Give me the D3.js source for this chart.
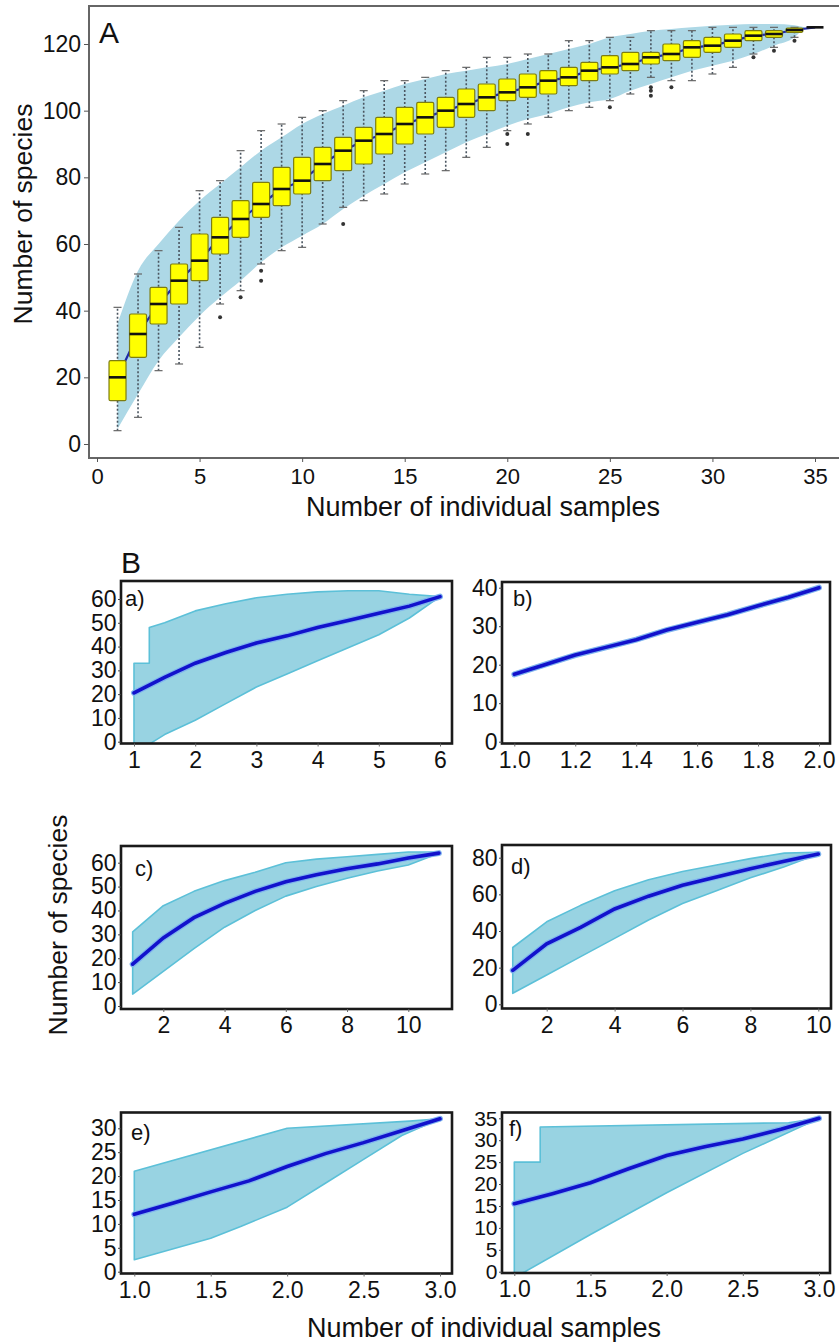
<!DOCTYPE html>
<html>
<head>
<meta charset="utf-8">
<script src="https://cdn.jsdelivr.net/npm/d3@7"></script>
<style>
  body { margin: 0; background: #fff; }
  svg { display: block; font-family: "Liberation Sans", Arial, sans-serif; }
  .axis path.domain { display: none; }
</style>
</head>
<body>
<svg id="chart" width="839" height="1342"></svg>
<script>
// ---------- Panel A: boxplots of species accumulation ----------
const samplesA = [1,2,3,4,5,6,7,8,9,10,11,12,13,14,15,16,17,18,19,20,21,22,23,24,25,26,27,28,29,30,31,32,33,34,35];
const whiskLo  = [4,8,22,24,29,42,46,54,58,59,66,71,73,75,78,81,82,86,89,94,96,98,100,101,103,105,110,109,109,111,113,117,119,122,125];
const q1A      = [13,26,36,42,49,57,62,68,71.5,75,79,82,84,87,90,93,95,98,100,103,104,105,107.5,109,111,112,114,115,116,117.5,119,121,122,123.5,125];
const medA     = [20,33,42,49,55,62,67.5,72,76.5,79,84,88,91,93,96,98,100,102,104,105.5,107,109,110,112,113,114,116,117,119,119.5,121,122.5,123,124.2,125];
const q3A      = [25,39,47,54,63,68,73,78.5,83,86,89,92,95,98,101,102.5,104,106.5,108,109.5,111,112,113,114.5,116.5,117.5,117.5,120,121,122,123,124,124,124.8,125];
const whiskHi  = [41,51,58,65,76,79,88,94,96,98,100,103,106,109,109,110,112,113,116,116,117,117,121,121,122,122,124,124,124,125,125,125,125,125,125];
const outlierX = [6,7,8,8,12,20,20,21,25,27,27,27,28,32,33,34];
const outlierY = [38,44,52,49,66,93,90,93,101,107,106,104.5,107,116,118,121];

// 95% envelope around the curve
const bandXA  = [1,2,3,4,5,6,7,8,9,10,11,12,13,14,15,16,17,18,19,20,21,22,23,24,25,26,27,28,29,30,31,32,33,34,34.5];
const bandHiA = [36,52,60,67,73,78,83,88,92,96,99,101.5,104,106,108,109.5,111,112,113,114,115.5,117,118.5,120,122,123,124,124.5,125,125.5,125.8,126,126,125.6,125];
const bandLoA = [4.5,15,25,32,38.5,44,49,54.5,59,62.5,66,70.5,74.5,78,81.5,84.5,87.5,90.5,93,95.5,97.5,99,101,102.5,103.5,106,108,110,112,113.5,115,117,119.5,122,125];

const xTicksA = [0,5,10,15,20,25,30,35];
const yTicksA = [0,20,40,60,80,100,120];

// ---------- Panel B: six sub-panels ----------
const aLineX = [1,1.5,2,2.5,3,3.5,4,4.5,5,5.5,6];
const aLine  = [20.5,27,33,37.5,41.5,44.5,48,51,54,57,61];
const aUpX   = [1,1.25,1.25,1.5,2,2.5,3,3.5,4,4.5,5,5.5,6];
const aUp    = [33,33,48,50,55,58,60.5,62,63,63.5,63.5,62,61];
const aLoX   = [1,1.25,1.5,2,2.5,3,3.5,4,4.5,5,5.5,6];
const aLo    = [-1,-1,3,9,16,23,28.5,34,39.5,45,52,61];

const bLineX = [1,1.1,1.2,1.3,1.4,1.5,1.6,1.7,1.8,1.9,2];
const bLine  = [17.5,20,22.5,24.5,26.5,29,31,33,35.3,37.5,40];

const cLineX = [1,2,3,4,5,6,7,8,9,10,11];
const cLine  = [17.5,28.5,37,43,48,52,55,57.5,59.5,62,64];
const cUp    = [31,42,48,52.5,56,60,61.5,62.5,63.5,64.5,64.5];
const cLo    = [5,14.5,24,33,40,46,50,53.5,56.5,59,64];

const dLineX = [1,2,3,4,5,6,7,8,9,10];
const dLine  = [18.5,33,42,52,59,65,69.5,74,78,82];
const dUp    = [31,45,54,62,68,72.5,76,79.5,82.5,83];
const dLo    = [6,16,26,36,46,55,62,69,75,82];

const eLineX = [1,1.25,1.5,1.75,2,2.25,2.5,2.75,3];
const eLine  = [12,14.3,16.7,19,22,24.7,27,29.5,32];
const eUpX   = [1,2,2.8,3];
const eUp    = [21,30,31.5,32];
const eLoX   = [1,1.5,1.7,2,2.25,2.5,2.75,3];
const eLo    = [2.5,7,9.5,13.5,18.5,23.5,28.5,32];

const fLineX = [1,1.25,1.5,1.75,2,2.25,2.5,2.75,3];
const fLine  = [15.5,17.8,20.3,23.5,26.5,28.5,30.3,32.5,35];
const fUpX   = [1,1.17,1.17,2.8,3];
const fUp    = [25,25,33,34,35];
const fLoX   = [1,1.07,1.5,2,2.5,3];
const fLo    = [-1,0,8.5,18,27,35];

const xTicksAB = [1,2,3,4,5,6];
const xTicksB  = [1.0,1.2,1.4,1.6,1.8,2.0];
const xTicksCD = [2,4,6,8,10];
const xTicksEF = [1.0,1.5,2.0,2.5,3.0];
const yTicks60 = [0,10,20,30,40,50,60];
const yTicks40 = [0,10,20,30,40];
const yTicks80 = [0,20,40,60,80];
const yTicks30 = [0,5,10,15,20,25,30];
const yTicks35 = [0,5,10,15,20,25,30,35];

const svg = d3.select('#chart');

// ===== Panel A =====
const xA = d3.scaleLinear().domain([0, 35]).range([97, 815]);
const yA = d3.scaleLinear().domain([0, 120]).range([444, 44]);
const gA = svg.append('g');

const bandA = bandXA.map((x, i) => ({ x: x, lo: bandLoA[i], hi: bandHiA[i] }));
gA.append('path')
    .datum(bandA)
    .attr('fill', '#add8e6')
    .attr('d', d3.area()
        .x(d => xA(d.x))
        .y0(d => yA(d.lo))
        .y1(d => yA(d.hi))
        .curve(d3.curveMonotoneX));

const boxes = samplesA.map((x, i) => ({
  x: x, lo: whiskLo[i], q1: q1A[i], med: medA[i], q3: q3A[i], hi: whiskHi[i]
}));

// dotted whiskers
gA.selectAll('.whisk')
  .data(boxes)
  .join('line')
    .attr('x1', d => xA(d.x)).attr('x2', d => xA(d.x))
    .attr('y1', d => yA(d.lo)).attr('y2', d => yA(d.hi))
    .attr('stroke', '#4a5560')
    .attr('stroke-width', 1.6)
    .attr('stroke-dasharray', '2,2');

// whisker caps
['lo', 'hi'].forEach(k => {
  gA.selectAll('.cap-' + k)
    .data(boxes)
    .join('line')
      .attr('x1', d => xA(d.x) - 4).attr('x2', d => xA(d.x) + 4)
      .attr('y1', d => yA(d[k])).attr('y2', d => yA(d[k]))
      .attr('stroke', '#666')
      .attr('stroke-width', 1.2);
});

// line through the medians
gA.append('path')
    .datum(boxes)
    .attr('fill', 'none')
    .attr('stroke', '#1f2aa8')
    .attr('stroke-width', 2.2)
    .attr('d', d3.line().x(d => xA(d.x)).y(d => yA(d.med)));

const boxW = 17;
gA.selectAll('.box')
  .data(boxes)
  .join('rect')
    .attr('x', d => xA(d.x) - boxW / 2)
    .attr('y', d => yA(d.q3))
    .attr('width', boxW)
    .attr('height', d => yA(d.q1) - yA(d.q3))
    .attr('rx', 1.5)
    .attr('fill', '#ffff00')
    .attr('stroke', '#7d7d10')
    .attr('stroke-width', 1.2);

gA.selectAll('.med')
  .data(boxes)
  .join('line')
    .attr('x1', d => xA(d.x) - boxW / 2).attr('x2', d => xA(d.x) + boxW / 2)
    .attr('y1', d => yA(d.med)).attr('y2', d => yA(d.med))
    .attr('stroke', '#111')
    .attr('stroke-width', 2.6);

gA.selectAll('.outlier')
  .data(outlierX.map((x, i) => ({ x: x, y: outlierY[i] })))
  .join('circle')
    .attr('cx', d => xA(d.x))
    .attr('cy', d => yA(d.y))
    .attr('r', 2)
    .attr('fill', '#333');

// frame (open on the right, like the cropped original)
gA.append('path')
    .attr('d', 'M845,6 H89 V458 H845')
    .attr('fill', 'none')
    .attr('stroke', '#666')
    .attr('stroke-width', 2);

gA.append('g')
    .attr('class', 'axis')
    .attr('transform', 'translate(89,0)')
    .call(d3.axisLeft(yA).tickValues(yTicksA).tickSize(5).tickPadding(3))
    .call(g => g.selectAll('text').attr('font-size', 23).attr('fill', '#111'))
    .call(g => g.selectAll('line').attr('stroke', '#555'));

gA.append('g')
    .attr('class', 'axis')
    .attr('transform', 'translate(0,458)')
    .call(d3.axisBottom(xA).tickValues(xTicksA).tickSize(4).tickPadding(6))
    .call(g => g.selectAll('text').attr('font-size', 22).attr('fill', '#111'))
    .call(g => g.selectAll('line').attr('stroke', '#555'));

gA.append('text').attr('x', 99).attr('y', 43)
    .attr('font-size', 30).attr('fill', '#111').text('A');

gA.append('text')
    .attr('transform', 'translate(32,214) rotate(-90)')
    .attr('text-anchor', 'middle')
    .attr('font-size', 26.5).attr('fill', '#111')
    .text('Number of species');

gA.append('text')
    .attr('x', 483).attr('y', 516)
    .attr('text-anchor', 'middle')
    .attr('font-size', 27).attr('fill', '#111')
    .text('Number of individual samples');

// ===== Panel B =====
const pts = (xs, ys) => xs.map((x, i) => ({ x: x, y: ys[i] }));

const panels = [
  { key: 'a)', frame: [121, 581, 452, 743.5], xd: [1, 6], xr: [134, 440], yd: [0, 60], yr: [741.7, 599],
    xt: xTicksAB, yt: yTicks60, fmt: d3.format('d'), lab: [125, 606], yfs: 23,
    line: pts(aLineX, aLine), up: pts(aUpX, aUp), lo: pts(aLoX, aLo) },
  { key: 'b)', frame: [502, 582, 830, 743.5], xd: [1, 2], xr: [514.3, 819], yd: [0, 40], yr: [741.7, 587.7],
    xt: xTicksB, yt: yTicks40, fmt: d3.format('.1f'), lab: [513, 606], yfs: 23,
    line: pts(bLineX, bLine), up: null, lo: null },
  { key: 'c)', frame: [121, 846, 452, 1009], xd: [2, 10], xr: [163.3, 408.3], yd: [0, 60], yr: [1006, 862.7],
    xt: xTicksCD, yt: yTicks60, fmt: d3.format('d'), lab: [135, 876], yfs: 23,
    line: pts(cLineX, cLine), up: pts(cLineX, cUp), lo: pts(cLineX, cLo) },
  { key: 'd)', frame: [502, 845, 831, 1008.5], xd: [2, 10], xr: [546.7, 818.3], yd: [0, 80], yr: [1004.3, 857.7],
    xt: xTicksCD, yt: yTicks80, fmt: d3.format('d'), lab: [511, 874], yfs: 23,
    line: pts(dLineX, dLine), up: pts(dLineX, dUp), lo: pts(dLineX, dLo) },
  { key: 'e)', frame: [121, 1112.5, 452, 1273.5], xd: [1, 3], xr: [134.3, 440], yd: [0, 30], yr: [1271.7, 1128.3],
    xt: xTicksEF, yt: yTicks30, fmt: d3.format('.1f'), lab: [131, 1140], yfs: 23,
    line: pts(eLineX, eLine), up: pts(eUpX, eUp), lo: pts(eLoX, eLo) },
  { key: 'f)', frame: [502, 1112.5, 830, 1273], xd: [1, 3], xr: [514.3, 819], yd: [0, 35], yr: [1271.7, 1118.3],
    xt: xTicksEF, yt: yTicks35, fmt: d3.format('.1f'), lab: [509, 1136], yfs: 21,
    line: pts(fLineX, fLine), up: pts(fUpX, fUp), lo: pts(fLoX, fLo) }
];

panels.forEach((p, idx) => {
  const [fx0, fy0, fx1, fy1] = p.frame;
  const x = d3.scaleLinear().domain(p.xd).range(p.xr);
  const y = d3.scaleLinear().domain(p.yd).range(p.yr);
  const g = svg.append('g');

  const clipId = 'clip' + idx;
  g.append('clipPath').attr('id', clipId)
    .append('rect').attr('x', fx0).attr('y', fy0).attr('width', fx1 - fx0).attr('height', fy1 - fy0);

  const inner = g.append('g').attr('clip-path', `url(#${clipId})`);
  const lineGen = d3.line().x(d => x(d.x)).y(d => y(d.y));

  if (p.up) {
    const poly = p.up.concat(p.lo.slice().reverse());
    inner.append('path')
        .datum(poly)
        .attr('fill', '#98d3e2')
        .attr('stroke', '#5cc0d8')
        .attr('stroke-width', 1.6)
        .attr('stroke-linejoin', 'round')
        .attr('d', d => lineGen(d) + 'Z');
  }

  inner.append('path')
      .datum(p.line)
      .attr('fill', 'none')
      .attr('stroke', '#7fb4ee')
      .attr('stroke-width', 6)
      .attr('stroke-linecap', 'round')
      .attr('d', lineGen);
  inner.append('path')
      .datum(p.line)
      .attr('fill', 'none')
      .attr('stroke', '#1212cc')
      .attr('stroke-width', 3.6)
      .attr('stroke-linecap', 'round')
      .attr('d', lineGen);

  g.append('rect')
      .attr('x', fx0).attr('y', fy0)
      .attr('width', fx1 - fx0).attr('height', fy1 - fy0)
      .attr('fill', 'none')
      .attr('stroke', '#1a1a1a')
      .attr('stroke-width', 2.6);

  g.append('g')
      .attr('class', 'axis')
      .attr('transform', `translate(${fx0},0)`)
      .call(d3.axisLeft(y).tickValues(p.yt).tickSize(3).tickPadding(1.5).tickFormat(d3.format('d')))
      .call(s => s.selectAll('text').attr('font-size', p.yfs).attr('fill', '#111'))
      .call(s => s.selectAll('line').attr('stroke', '#444'));

  g.append('g')
      .attr('class', 'axis')
      .attr('transform', `translate(0,${fy1})`)
      .call(d3.axisBottom(x).tickValues(p.xt).tickSize(3).tickPadding(5).tickFormat(p.fmt))
      .call(s => s.selectAll('text').attr('font-size', 23).attr('fill', '#111'))
      .call(s => s.selectAll('line').attr('stroke', '#666'));

  g.append('text')
      .attr('x', p.lab[0]).attr('y', p.lab[1])
      .attr('font-size', 22).attr('fill', '#111')
      .text(p.key);
});

svg.append('text').attr('x', 121).attr('y', 573)
    .attr('font-size', 30).attr('fill', '#111').text('B');

svg.append('text')
    .attr('transform', 'translate(67,925) rotate(-90)')
    .attr('text-anchor', 'middle')
    .attr('font-size', 26.5).attr('fill', '#111')
    .text('Number of species');

svg.append('text')
    .attr('x', 484).attr('y', 1337)
    .attr('text-anchor', 'middle')
    .attr('font-size', 27).attr('fill', '#111')
    .text('Number of individual samples');
</script>
</body>
</html>
